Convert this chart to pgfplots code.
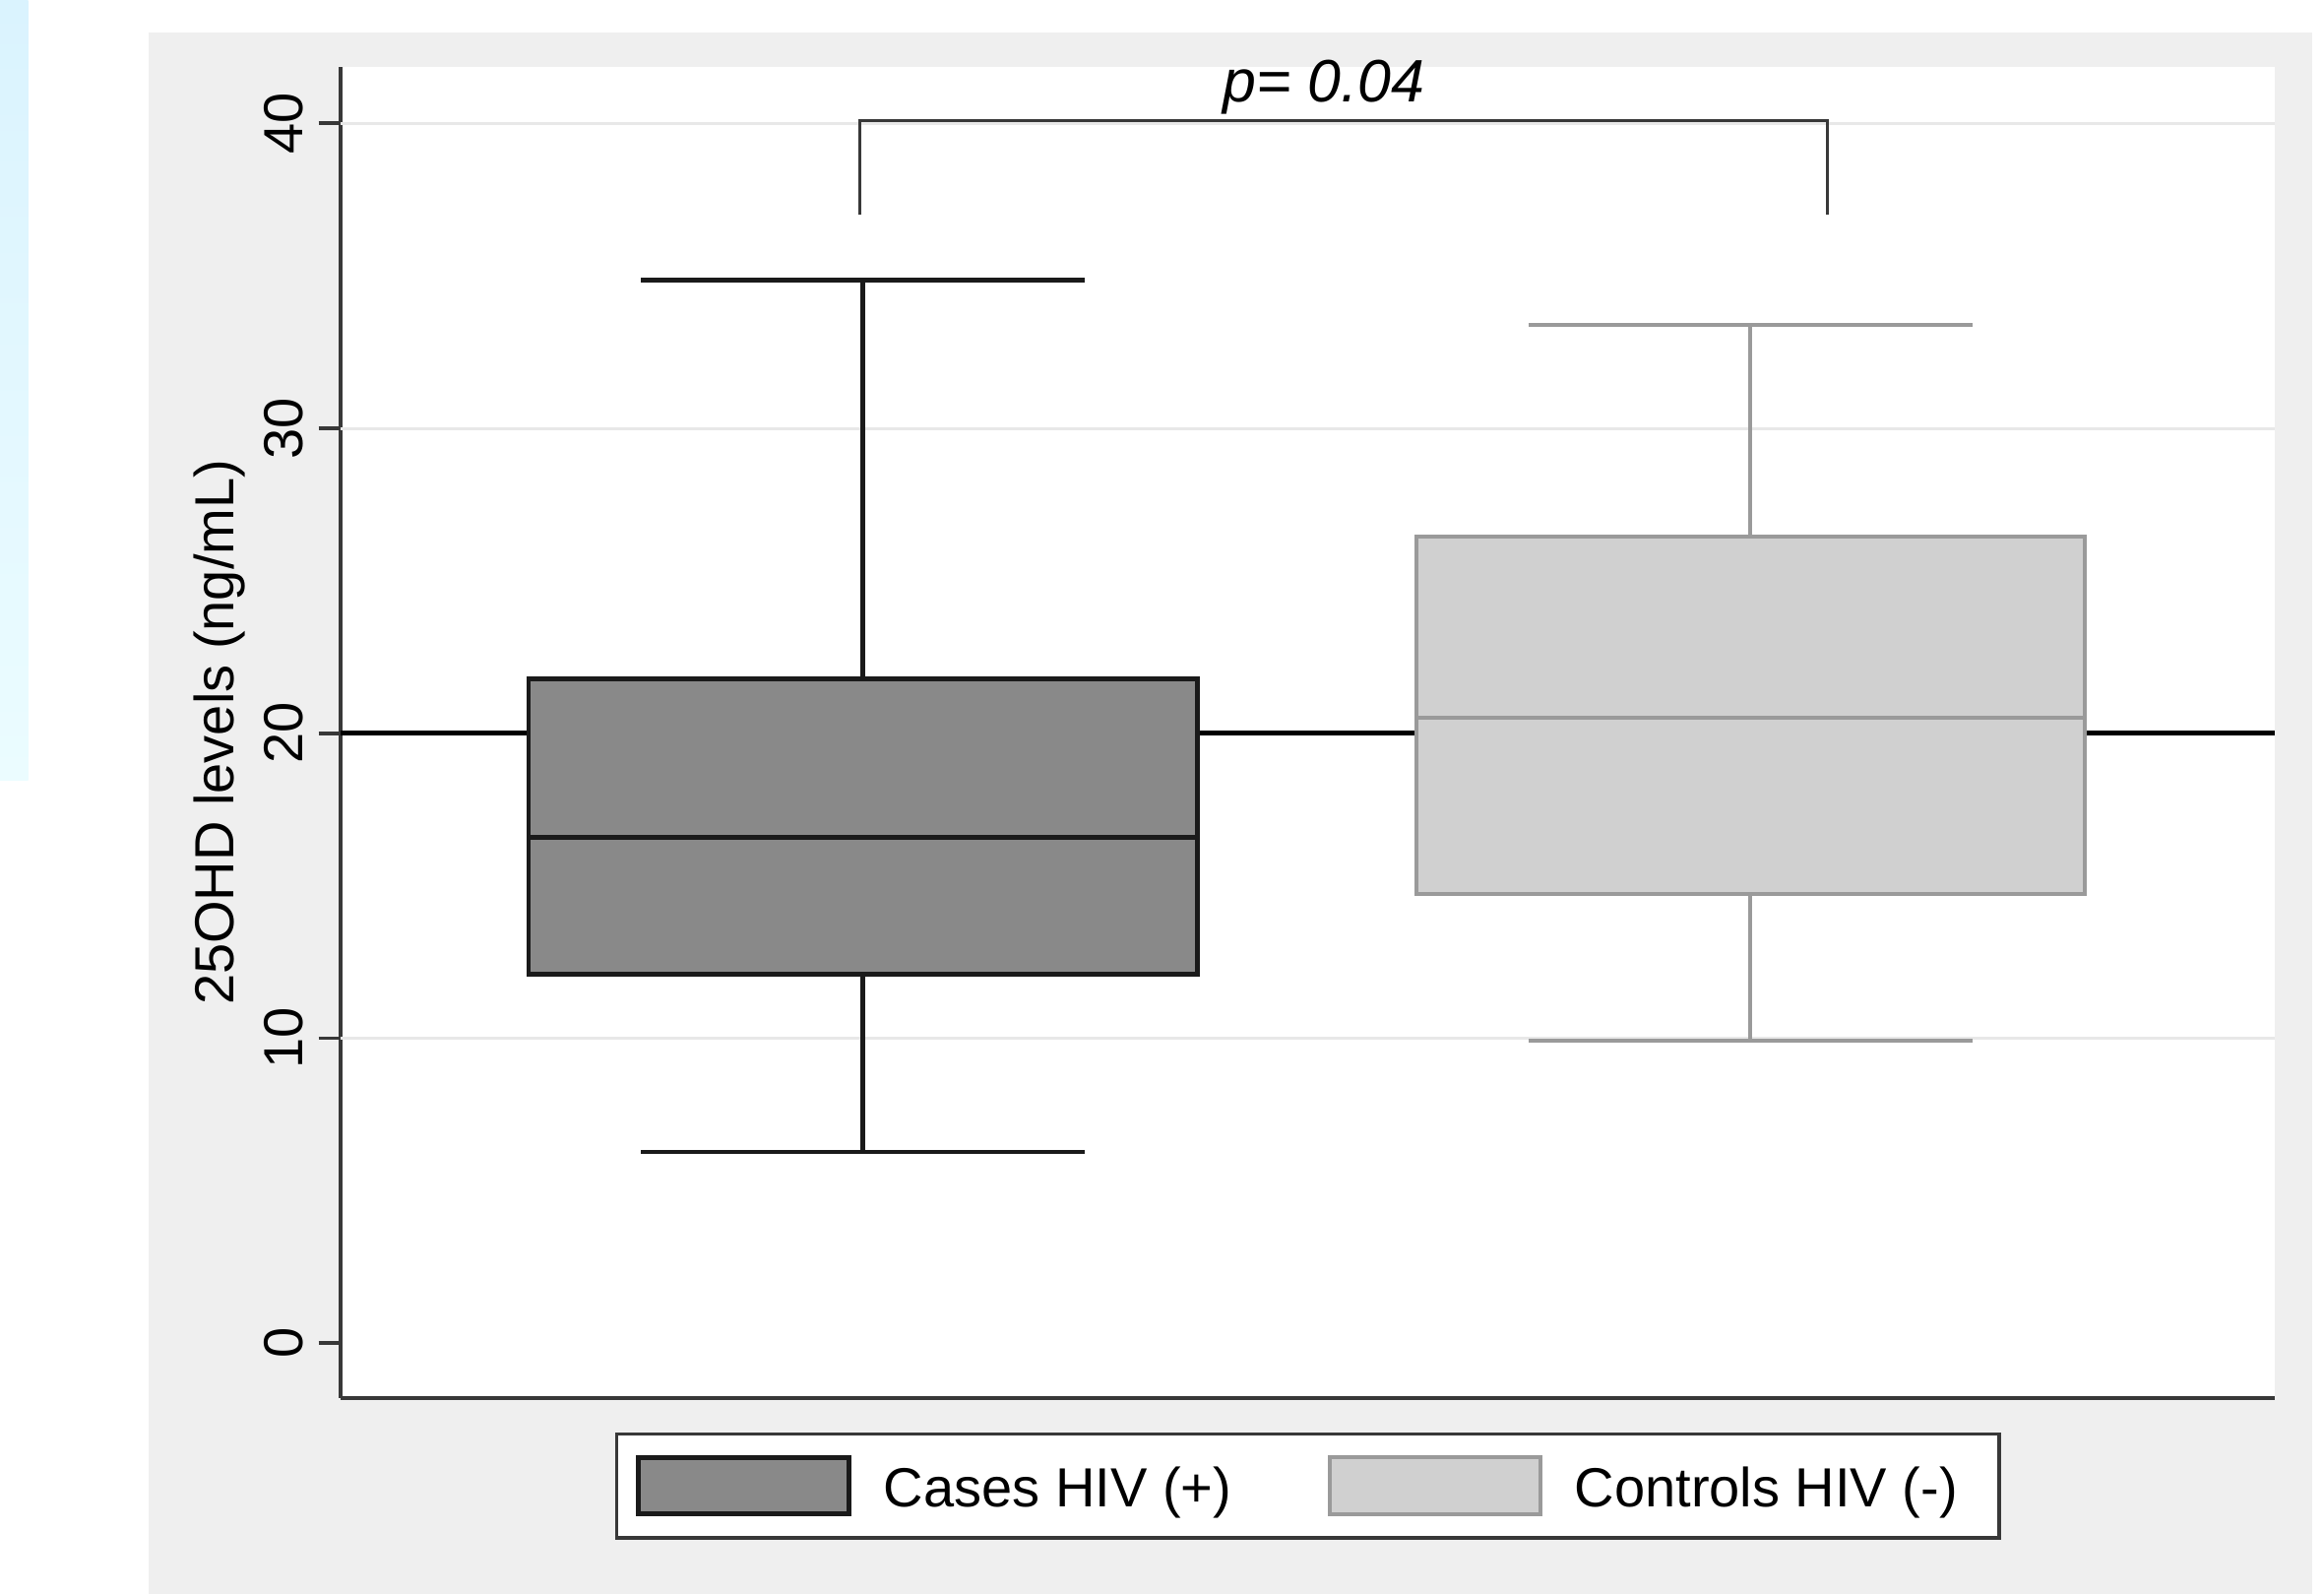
\documentclass[border=0pt]{standalone}
\usepackage{fontspec}
\setmainfont{Liberation Sans}
\usepackage{pgfplots}
\pgfplotsset{compat=1.18}
\usepgfplotslibrary{statistics}
\definecolor{bggray}{HTML}{EFEFEF}
\definecolor{gridgray}{HTML}{E8E8E8}
\definecolor{casefill}{HTML}{898989}
\definecolor{caseline}{HTML}{1A1A1A}
\definecolor{ctrlfill}{HTML}{D0D0D0}
\definecolor{ctrlline}{HTML}{9A9A9A}
\definecolor{axisgray}{HTML}{383838}
\definecolor{stripblue}{HTML}{DAF3FE}
\definecolor{stripblue2}{HTML}{EBFCFF}
\begin{document}
\begin{tikzpicture}
\useasboundingbox[fill=white] (-115pt,-66pt) rectangle (669pt,471.5pt);
\fill[bggray] (-65pt,-66pt) rectangle (665pt,460.5pt);
\shade[top color=stripblue, bottom color=stripblue2] (-115pt,208.5pt) rectangle (-105.5pt,471.5pt);
\begin{axis}[
  scale only axis, width=652.5pt, height=449pt,
  clip=false,
  boxplot/draw direction=y,
  axis background/.style={fill=white},
  xmin=0.412, xmax=2.591, ymin=-1.8, ymax=41.86,
  axis x line=bottom, axis y line=left,
  axis line style={-, draw=axisgray, line width=1.3pt},
  xtick=\empty,
  ytick={0,10,20,30,40},
  extra y ticks={10,20,30,40}, extra y tick labels={},
  extra y tick style={grid=major, major tick length=0pt},
  major grid style={draw=gridgray, line width=1pt},
  tick align=outside, major tick length=7.5pt,
  tick style={draw=axisgray, line width=1.3pt},
  /pgf/number format/assume math mode=true,
  yticklabel style={rotate=90, anchor=south, inner sep=5pt, font=\fontsize{18.6}{20}\selectfont},
  ylabel={25OHD levels (ng/mL)},
  ylabel style={font=\fontsize{18.6}{20}\selectfont, at={(axis description cs:-0.0628,0.5)}, anchor=center},
  legend columns=2,
  legend cell align=left,
  legend style={at={(0.5,-0.0256)}, anchor=north, draw=axisgray, line width=1.1pt, fill=white,
    inner xsep=6.5pt, inner ysep=7.25pt, font=\fontsize{18.6}{20}\selectfont,
    nodes={inner sep=0pt, text depth=0.15em},
    /tikz/every odd column/.append style={column sep=11pt},
    /tikz/every even column/.append style={column sep=32.5pt}},
]
% reference line at 20
\addplot[black, line width=1.5pt, forget plot] coordinates {(0.412,20) (2.591,20)};
% Cases HIV (+)
\addplot[boxplot prepared={draw position=1, lower whisker=6.27, lower quartile=12.10,
    median=16.58, upper quartile=21.78, upper whisker=34.86,
    box extend=0.753, whisker extend=0.5},
  solid, fill=casefill, draw=caseline, line width=1.6pt, forget plot] coordinates {};
% Controls HIV (-)
\addplot[boxplot prepared={draw position=2, lower whisker=9.92, lower quartile=14.73,
    median=20.50, upper quartile=26.45, upper whisker=33.40,
    box extend=0.753, whisker extend=0.5},
  solid, fill=ctrlfill, draw=ctrlline, line width=1.3pt, forget plot] coordinates {};
% bracket
\addplot[draw=axisgray, line width=1pt, forget plot] coordinates {(0.997,37.0) (0.997,40.1) (2.087,40.1) (2.087,37.0)};
\node[font=\itshape\fontsize{20.2}{22}\selectfont] at (axis cs:1.519,41.2) {p= 0.04};
\addlegendimage{legend image code/.code={\draw[fill=casefill, draw=caseline, line width=1.6pt] (0pt,-8.3pt) rectangle (71pt,10.7pt);}}
\addlegendentry{Cases HIV (+)}
\addlegendimage{legend image code/.code={\draw[fill=ctrlfill, draw=ctrlline, line width=1.3pt] (0pt,-8.3pt) rectangle (71pt,10.7pt);}}
\addlegendentry{Controls HIV (-)\kern7.5pt\rule{0pt}{0pt}}
\end{axis}
\end{tikzpicture}
\end{document}
